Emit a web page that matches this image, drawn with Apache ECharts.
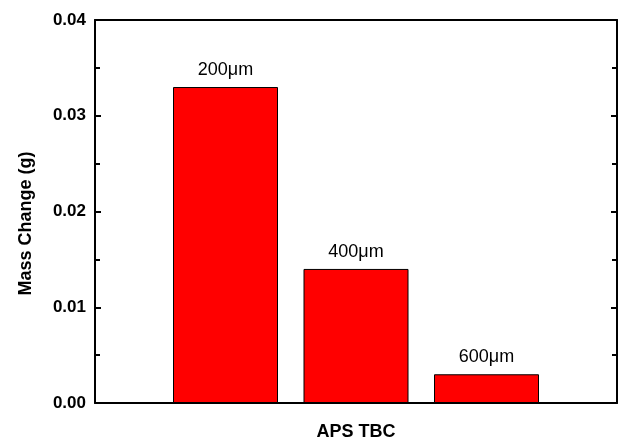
<!DOCTYPE html>
<html>
<head>
<meta charset="utf-8">
<script src="https://cdn.jsdelivr.net/npm/echarts@6/dist/echarts.min.js"></script>
<style>
  html, body { margin: 0; padding: 0; background: #fff; }
  #chart { width: 621px; height: 442px; }
</style>
</head>
<body>
<div id="chart"></div>
<script>
// Coating thickness groups and measured mass change
var categories = ['200\u03bcm', '400\u03bcm', '600\u03bcm'];
var massChange = [0.033, 0.014, 0.003];
var yTicks = [0.00, 0.01, 0.02, 0.03, 0.04];

var FONT = '"Liberation Sans", Arial, sans-serif';

// Bars sit at positions 1..n on a numeric x scale spanning 0..n+1
var barData = massChange.map(function (v, i) { return [i + 1, v]; });

var frameLine = { show: true, onZero: false, lineStyle: { color: '#000', width: 2 } };
var tickStyle = { show: true, inside: true, length: 6, lineStyle: { color: '#000', width: 2 } };
var minorStyle = { show: true, splitNumber: 2, length: 5, lineStyle: { color: '#000', width: 2 } };

var chart = echarts.init(document.getElementById('chart'));
chart.setOption({
  animation: false,
  backgroundColor: '#ffffff',
  grid: { left: 95, right: 4, top: 20, bottom: 39, containLabel: false, outerBoundsMode: 'none' },
  xAxis: [
    {
      type: 'value', min: 0, max: categories.length + 1,
      name: 'APS TBC', nameLocation: 'middle', nameGap: 20,
      nameTextStyle: { fontFamily: FONT, fontWeight: 'bold', fontSize: 18, color: '#000' },
      axisLine: frameLine,
      axisTick: { show: false }, axisLabel: { show: false }, splitLine: { show: false }
    },
    {
      type: 'value', min: 0, max: categories.length + 1, position: 'top',
      axisLine: frameLine,
      axisTick: { show: false }, axisLabel: { show: false }, splitLine: { show: false }
    }
  ],
  yAxis: [
    {
      type: 'value', min: yTicks[0], max: yTicks[yTicks.length - 1], interval: 0.01,
      name: 'Mass Change (g)', nameLocation: 'middle', nameGap: 60, nameRotate: 90,
      nameTextStyle: { fontFamily: FONT, fontWeight: 'bold', fontSize: 18, color: '#000', padding: [0, 24, 0, 0] },
      axisLine: frameLine,
      axisTick: tickStyle,
      minorTick: minorStyle,
      axisLabel: {
        margin: 9, fontFamily: FONT, fontWeight: 'bold', fontSize: 17, color: '#000',
        formatter: function (v) { return v.toFixed(2); }
      },
      splitLine: { show: false }
    },
    {
      type: 'value', min: yTicks[0], max: yTicks[yTicks.length - 1], interval: 0.01, position: 'right',
      axisLine: frameLine,
      axisTick: tickStyle,
      minorTick: minorStyle,
      axisLabel: { show: false }, splitLine: { show: false }
    }
  ],
  series: [
    {
      type: 'bar',
      data: barData,
      barWidth: 105,
      itemStyle: { color: '#ff0000', borderColor: '#000', borderWidth: 1 },
      label: {
        show: true, position: 'top', distance: 8,
        fontFamily: FONT, fontSize: 18, color: '#000',
        formatter: function (p) { return categories[p.dataIndex]; }
      }
    }
  ]
});
</script>
</body>
</html>
